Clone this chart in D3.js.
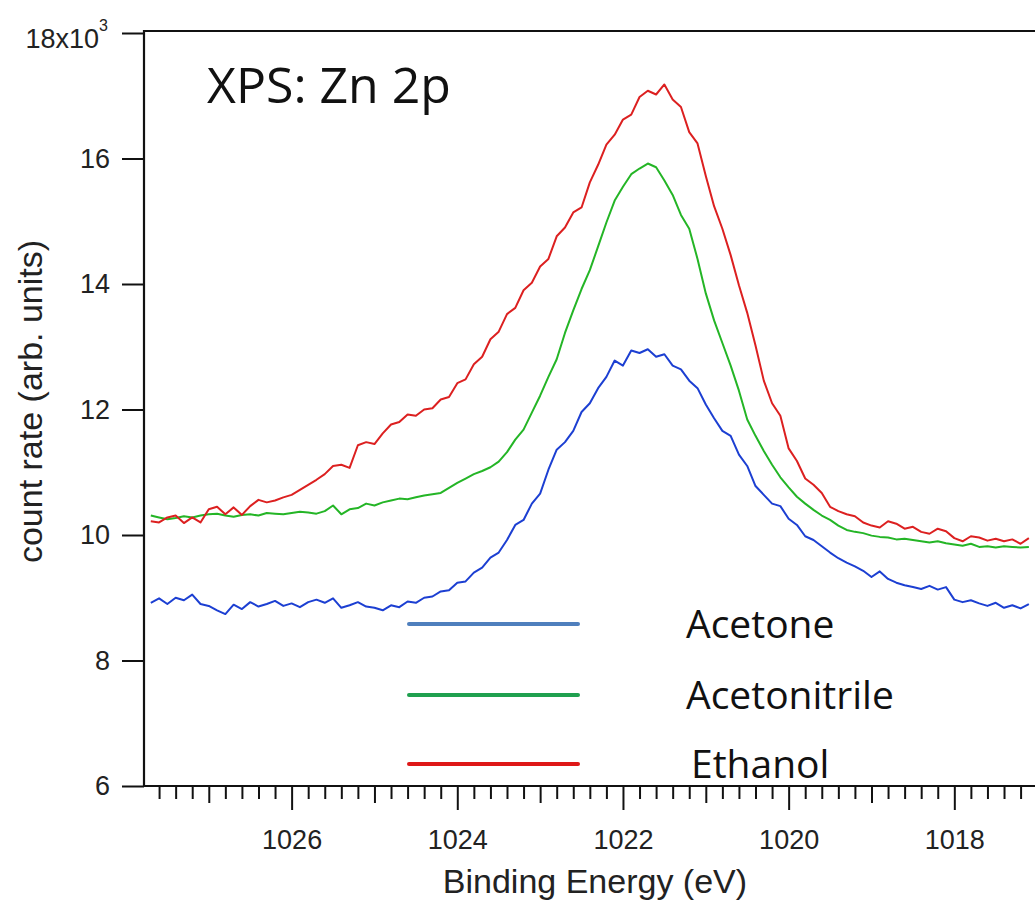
<!DOCTYPE html>
<html>
<head>
<meta charset="utf-8">
<script src="https://cdn.jsdelivr.net/npm/d3@7"></script>
<style>
  body { margin: 0; background: #fff; }
  svg { display: block; }
</style>
</head>
<body>
<div id="chart"></div>
<script>
// binding energy of each sample (eV), high to low as in the spectrum
var energy = [
  1027.7, 1027.6, 1027.5, 1027.4, 1027.3, 1027.2, 1027.1, 1027.0, 1026.9, 1026.8,
  1026.7, 1026.6, 1026.5, 1026.4, 1026.3, 1026.2, 1026.1, 1026.0, 1025.9, 1025.8,
  1025.7, 1025.6, 1025.5, 1025.4, 1025.3, 1025.2, 1025.1, 1025.0, 1024.9, 1024.8,
  1024.7, 1024.6, 1024.5, 1024.4, 1024.3, 1024.2, 1024.1, 1024.0, 1023.9, 1023.8,
  1023.7, 1023.6, 1023.5, 1023.4, 1023.3, 1023.2, 1023.1, 1023.0, 1022.9, 1022.8,
  1022.7, 1022.6, 1022.5, 1022.4, 1022.3, 1022.2, 1022.1, 1022.0, 1021.9, 1021.8,
  1021.7, 1021.6, 1021.5, 1021.4, 1021.3, 1021.2, 1021.1, 1021.0, 1020.9, 1020.8,
  1020.7, 1020.6, 1020.5, 1020.4, 1020.3, 1020.2, 1020.1, 1020.0, 1019.9, 1019.8,
  1019.7, 1019.6, 1019.5, 1019.4, 1019.3, 1019.2, 1019.1, 1019.0, 1018.9, 1018.8,
  1018.7, 1018.6, 1018.5, 1018.4, 1018.3, 1018.2, 1018.1, 1018.0, 1017.9, 1017.8,
  1017.7, 1017.6, 1017.5, 1017.4, 1017.3, 1017.2, 1017.1
];

// count rates, x10^3
var acetone = [
  8.92, 8.99, 8.90, 9.00, 8.96, 9.05, 8.90, 8.87, 8.80, 8.74,
  8.89, 8.82, 8.93, 8.86, 8.90, 8.95, 8.87, 8.91, 8.85, 8.93,
  8.97, 8.92, 8.99, 8.84, 8.88, 8.93, 8.86, 8.84, 8.80, 8.88,
  8.85, 8.94, 8.92, 9.00, 9.02, 9.10, 9.12, 9.24, 9.26, 9.40,
  9.48, 9.64, 9.72, 9.92, 10.16, 10.24, 10.50, 10.66, 11.04, 11.36,
  11.48, 11.66, 11.96, 12.10, 12.34, 12.52, 12.78, 12.70, 12.94, 12.90,
  12.96, 12.84, 12.88, 12.70, 12.64, 12.46, 12.34, 12.08, 11.86, 11.66,
  11.58, 11.28, 11.10, 10.78, 10.64, 10.50, 10.46, 10.26, 10.16, 9.98,
  9.92, 9.82, 9.72, 9.63, 9.56, 9.50, 9.43, 9.33, 9.42, 9.30,
  9.24, 9.20, 9.17, 9.14, 9.19, 9.13, 9.17, 8.97, 8.93, 8.96,
  8.91, 8.87, 8.92, 8.84, 8.88, 8.83, 8.90
];

var acetonitrile = [
  10.31, 10.28, 10.25, 10.27, 10.30, 10.28, 10.31, 10.33, 10.34, 10.31,
  10.29, 10.32, 10.33, 10.31, 10.35, 10.34, 10.33, 10.35, 10.37, 10.36,
  10.34, 10.38, 10.47, 10.33, 10.41, 10.43, 10.50, 10.47, 10.52, 10.55,
  10.58, 10.57, 10.60, 10.63, 10.65, 10.67, 10.75, 10.83, 10.90, 10.97,
  11.02, 11.08, 11.17, 11.32, 11.52, 11.68, 11.95, 12.22, 12.52, 12.80,
  13.22, 13.58, 13.92, 14.22, 14.60, 14.98, 15.33, 15.55, 15.75, 15.84,
  15.92, 15.86, 15.65, 15.42, 15.10, 14.88, 14.40, 13.85, 13.42, 13.06,
  12.70, 12.30, 11.84, 11.58, 11.34, 11.12, 10.92, 10.76, 10.61, 10.50,
  10.40, 10.31, 10.24, 10.15, 10.08, 10.05, 10.03, 9.99, 9.97, 9.96,
  9.93, 9.94, 9.92, 9.90, 9.88, 9.90, 9.87, 9.85, 9.83, 9.86,
  9.81, 9.82, 9.80, 9.82, 9.81, 9.80, 9.81
];

var ethanol = [
  10.22, 10.20, 10.28, 10.31, 10.19, 10.28, 10.20, 10.41, 10.45, 10.33,
  10.44, 10.32, 10.46, 10.56, 10.52, 10.55, 10.60, 10.64, 10.72, 10.80,
  10.88, 10.97, 11.10, 11.12, 11.07, 11.43, 11.48, 11.45, 11.62, 11.76,
  11.80, 11.92, 11.90, 12.00, 12.02, 12.16, 12.20, 12.42, 12.48, 12.72,
  12.84, 13.12, 13.24, 13.52, 13.62, 13.90, 14.02, 14.28, 14.40, 14.76,
  14.90, 15.14, 15.22, 15.62, 15.90, 16.22, 16.38, 16.62, 16.70, 16.98,
  17.08, 17.02, 17.18, 16.94, 16.82, 16.42, 16.24, 15.72, 15.24, 14.88,
  14.46, 13.98, 13.54, 13.02, 12.46, 12.10, 11.90, 11.38, 11.18, 10.90,
  10.80, 10.67, 10.45, 10.38, 10.33, 10.30, 10.20, 10.15, 10.12, 10.22,
  10.18, 10.10, 10.13, 10.05, 10.02, 10.10, 10.06, 9.95, 9.90, 9.98,
  9.96, 9.91, 9.94, 9.90, 9.93, 9.86, 9.95
];

var seriesNames = ['Acetone', 'Acetonitrile', 'Ethanol'];
var curveColors = ['#1c3fd2', '#24b526', '#dc2020'];
var legendColors = ['#4f7fbd', '#1fa04f', '#de1818'];
var yTicks = [6, 8, 10, 12, 14, 16, 18];
var xLabelTicks = [1026, 1024, 1022, 1020, 1018];

var width = 1035, height = 901;
var plotLeft = 144, plotRight = 1035, plotTop = 31, plotBottom = 786;
var axisFont = "'Liberation Sans', Arial, sans-serif";
var textFont = "'Open Sans', 'Noto Sans', sans-serif";

var svg = d3.select('#chart').append('svg')
    .attr('width', width)
    .attr('height', height);

svg.append('rect').attr('width', width).attr('height', height).attr('fill', '#fff');

var x = d3.scaleLinear().domain([1027.782, 1017.026]).range([plotLeft, plotRight]);
var y = d3.scaleLinear().domain([6, 18]).range([plotBottom, 33]);

svg.append('clipPath').attr('id', 'plotClip')
    .append('rect')
    .attr('x', plotLeft).attr('y', plotTop)
    .attr('width', plotRight - plotLeft).attr('height', plotBottom - plotTop);

// curves
var series = [acetone, acetonitrile, ethanol];
var line = d3.line()
    .x(function (d, i) { return x(energy[i]); })
    .y(function (d) { return y(d); });

svg.append('g').attr('clip-path', 'url(#plotClip)')
    .selectAll('path')
    .data(series)
    .enter()
    .append('path')
    .attr('d', line)
    .attr('fill', 'none')
    .attr('stroke', function (d, i) { return curveColors[i]; })
    .attr('stroke-width', 2)
    .attr('stroke-linejoin', 'round');

// y axis
var gy = svg.append('g')
    .attr('transform', 'translate(' + plotLeft + ',0)')
    .call(d3.axisLeft(y).tickValues(yTicks).tickSize(22).tickPadding(12)
        .tickFormat(function (d) { return d === 18 ? '' : d; }));
gy.select('.domain').remove();
gy.selectAll('.tick line').attr('stroke', '#111').attr('stroke-width', 2);
gy.selectAll('.tick text')
    .attr('font-family', axisFont)
    .attr('font-size', 27)
    .attr('fill', '#222');

// top label carries the multiplier
var topLabel = svg.append('text')
    .attr('x', 108)
    .attr('y', y(18) + 15)
    .attr('text-anchor', 'end')
    .attr('font-family', axisFont)
    .attr('font-size', 27)
    .attr('fill', '#222');
topLabel.append('tspan').text('18x10');
topLabel.append('tspan').attr('font-size', 16).attr('dy', -17).text('3');

// x axis: minor every 0.2 eV, medium at odd, major (labelled) at even eV
function isWhole(d) { return Math.abs(d - Math.round(d)) < 1e-6; }

var gx = svg.append('g')
    .attr('transform', 'translate(0,' + plotBottom + ')')
    .call(d3.axisBottom(x).tickValues(x.ticks(50)).tickSize(12)
        .tickFormat(function (d) {
            return isWhole(d) && xLabelTicks.indexOf(Math.round(d)) >= 0 ? Math.round(d) : '';
        }));
gx.select('.domain').remove();
gx.selectAll('.tick line')
    .attr('stroke', '#111')
    .attr('stroke-width', 2)
    .attr('y2', function (d) {
        if (!isWhole(d)) return 13;
        return Math.round(d) % 2 === 0 ? 24 : 17;
    });
gx.selectAll('.tick text')
    .attr('y', 44)
    .attr('dy', '0.71em')
    .attr('font-family', axisFont)
    .attr('font-size', 27)
    .attr('fill', '#222');

// frame lines
svg.append('line')
    .attr('x1', plotLeft).attr('x2', plotLeft)
    .attr('y1', plotTop - 1).attr('y2', plotBottom + 1)
    .attr('stroke', '#111').attr('stroke-width', 2.2);
svg.append('line')
    .attr('x1', plotLeft - 1).attr('x2', plotRight)
    .attr('y1', plotBottom).attr('y2', plotBottom)
    .attr('stroke', '#111').attr('stroke-width', 2.2);
svg.append('line')
    .attr('x1', plotLeft - 1).attr('x2', plotRight)
    .attr('y1', plotTop).attr('y2', plotTop)
    .attr('stroke', '#111').attr('stroke-width', 2.2);

// axis titles
svg.append('text')
    .attr('x', (x(1026) + x(1018)) / 2 - 28)
    .attr('y', 893)
    .attr('text-anchor', 'middle')
    .attr('font-family', axisFont)
    .attr('font-size', 34)
    .attr('fill', '#222')
    .text('Binding Energy (eV)');

svg.append('text')
    .attr('transform', 'translate(42,' + (y(12) - 8) + ') rotate(-90)')
    .attr('text-anchor', 'middle')
    .attr('font-family', axisFont)
    .attr('font-size', 34)
    .attr('fill', '#222')
    .text('count rate (arb. units)');

// panel title
svg.append('text')
    .attr('x', 207)
    .attr('y', 103)
    .attr('font-family', textFont)
    .attr('font-size', 50)
    .attr('fill', '#111')
    .text('XPS: Zn 2p');

// legend
var legendRows = [624, 695, 764];
var legend = svg.append('g').selectAll('g')
    .data(seriesNames)
    .enter()
    .append('g');

legend.append('line')
    .attr('x1', 409).attr('x2', 578)
    .attr('y1', function (d, i) { return legendRows[i]; })
    .attr('y2', function (d, i) { return legendRows[i]; })
    .attr('stroke', function (d, i) { return legendColors[i]; })
    .attr('stroke-width', 4)
    .attr('stroke-linecap', 'round');

legend.append('text')
    .attr('x', function (d, i) { return i === 2 ? 691 : 686; })
    .attr('y', function (d, i) { return legendRows[i] + 14; })
    .attr('font-family', textFont)
    .attr('font-size', 39)
    .attr('fill', '#111')
    .text(function (d) { return d; });
</script>
</body>
</html>
